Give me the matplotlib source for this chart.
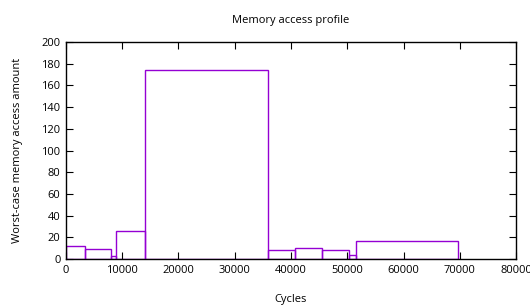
import matplotlib
matplotlib.use("Agg")
import matplotlib.pyplot as plt
import numpy as np

plt.rcParams['font.family'] = ['Open Sans', 'DejaVu Sans']

# box edges (cycles) and worst-case access amount per box
starts = [0, 3400, 8000, 8900, 14000, 36000, 40700, 45600, 50400, 51500]
ends = [3400, 8000, 8900, 14000, 36000, 40700, 45600, 50400, 51500, 69600]
amounts = [12, 9, 2.5, 26, 174, 8, 10, 8.3, 3.5, 17]

widths = np.array(ends) - np.array(starts)

fig = plt.figure(figsize=(5.3, 3.05), dpi=100)
ax = fig.add_axes([0.1245, 0.1508, 0.8491, 0.7115])

ax.bar(starts, amounts, width=widths, align='edge', fill=False,
       edgecolor='#9400d3', linewidth=1.0)

ax.set_xlim(0, 80000)
ax.set_ylim(0, 200)
ax.set_xticks(range(0, 80001, 10000))
ax.set_yticks(range(0, 201, 20))
ax.tick_params(direction='in', top=True, right=True, labelsize=8, length=5,
               width=0.8, pad=4)
for s in ax.spines.values():
    s.set_linewidth(1.0)

ax.set_title("Memory access profile", fontsize=8, pad=14)
ax.set_xlabel("Cycles", fontsize=8, labelpad=13)
ax.set_ylabel("Worst-case memory access amount", fontsize=8, labelpad=13)

fig.savefig("out.png", dpi=100)
